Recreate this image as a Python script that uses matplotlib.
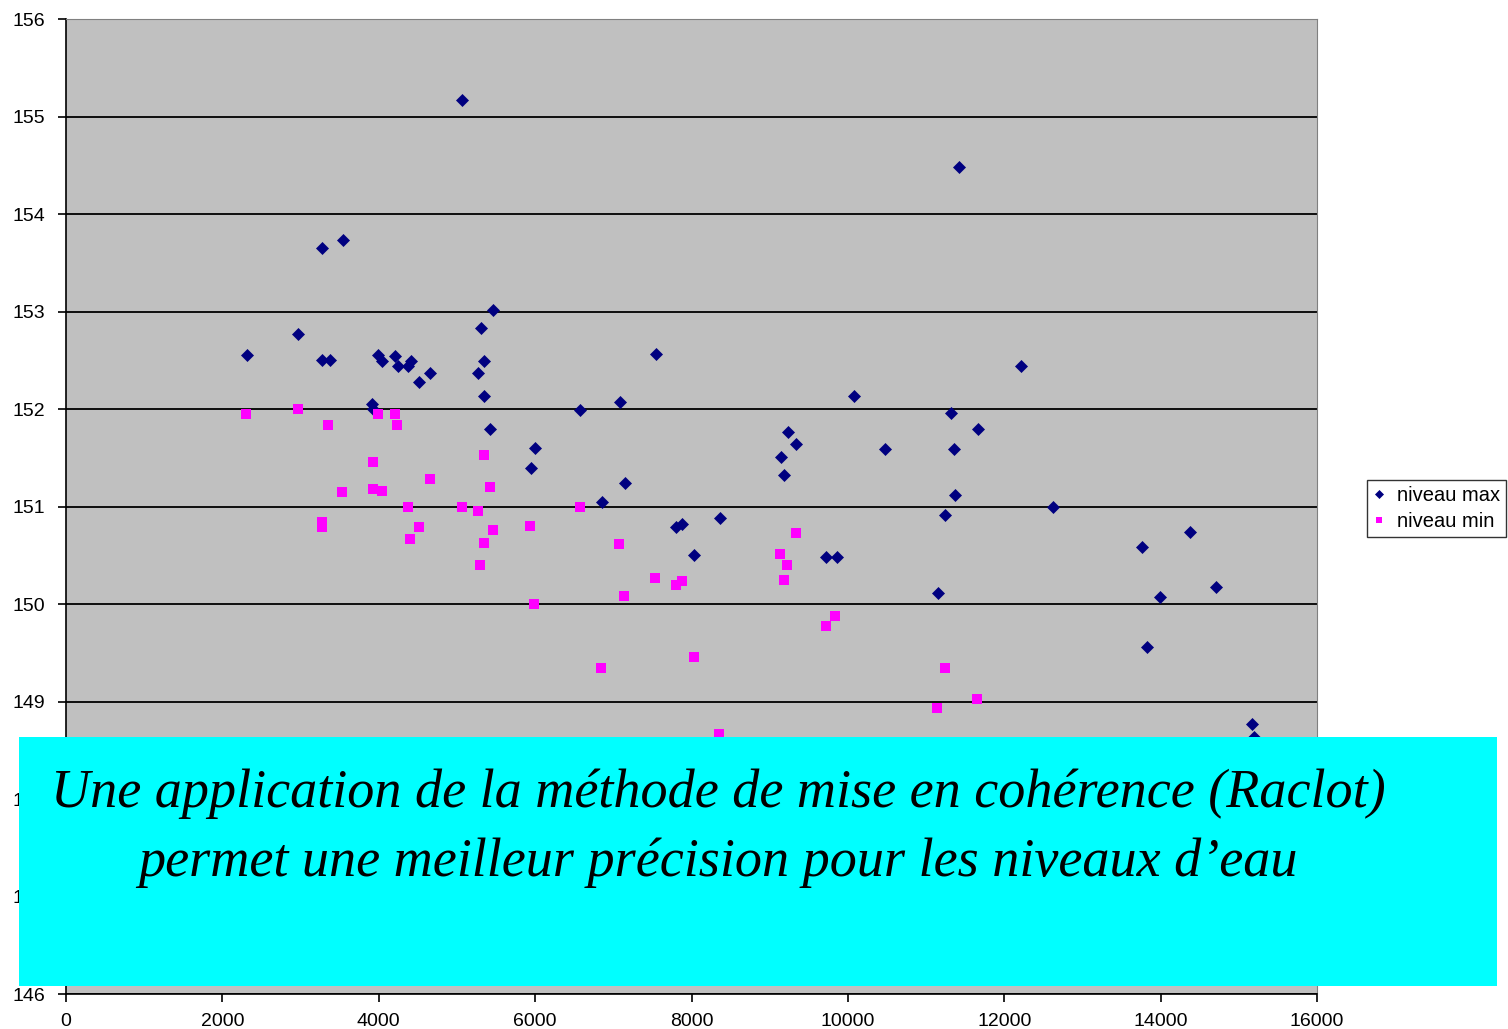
import matplotlib
matplotlib.use("Agg")
import matplotlib.pyplot as plt
from matplotlib.patches import Rectangle

plt.rcParams['font.family'] = ['Liberation Sans', 'DejaVu Sans']

# distance (m) and water level (m) - "niveau max"
max_x = [2315, 2967, 3274, 3543, 3274, 3377, 3920, 3930, 3990, 4042, 4208, 4246,
         4374, 4413, 4515, 4656, 5065, 5270, 5308, 5346, 5346, 5423, 5462, 5947,
         5998, 6574, 6855, 7085, 7150, 7546, 7802, 7879, 8032, 8365, 9145, 9183,
         9234, 9337, 9720, 9861, 10079, 10475, 11153, 11242, 11319, 11357, 11370,
         11421, 11664, 12214, 12624, 13762, 13826, 13992, 14376, 14709, 15169, 15195]
max_y = [152.55, 152.77, 153.65, 153.73, 152.50, 152.50, 152.05, 152.00, 152.55, 152.49,
         152.54, 152.44, 152.44, 152.49, 152.28, 152.37, 155.17, 152.37, 152.83, 152.49,
         152.13, 151.80, 153.02, 151.40, 151.60, 151.99, 151.05, 152.07, 151.24, 152.56,
         150.79, 150.82, 150.50, 150.88, 151.51, 151.32, 151.76, 151.64, 150.48, 150.48,
         152.13, 151.59, 150.11, 150.91, 151.96, 151.59, 151.12, 154.48, 151.79, 152.44,
         150.99, 150.58, 149.56, 150.07, 150.74, 150.17, 148.77, 148.64]

# "niveau min"
min_x = [2302, 2967, 3351, 3990, 4208, 4234, 3926, 3530, 3926, 4042, 4656, 5346,
         5423, 4374, 5065, 5270, 3274, 3274, 4515, 5462, 5935, 4400, 5346, 5295,
         5985, 6574, 7073, 7533, 7802, 7879, 7137, 9337, 9132, 9222, 9183, 9836,
         9720, 8032, 6843, 8352, 11242, 11652, 11140]
min_y = [151.95, 152.00, 151.84, 151.95, 151.95, 151.84, 151.46, 151.15, 151.18, 151.16,
         151.28, 151.53, 151.20, 151.00, 151.00, 150.95, 150.84, 150.79, 150.79, 150.76,
         150.80, 150.67, 150.63, 150.40, 150.00, 151.00, 150.62, 150.27, 150.20, 150.24,
         150.08, 150.73, 150.51, 150.40, 150.25, 149.88, 149.77, 149.46, 149.34, 148.67,
         149.34, 149.03, 148.93]

x_ticks = [0, 2000, 4000, 6000, 8000, 10000, 12000, 14000, 16000]
y_ticks = [146, 147, 148, 149, 150, 151, 152, 153, 154, 155, 156]
series_labels = ["niveau max", "niveau min"]
caption = "Une application de la méthode de mise en cohérence (Raclot)\npermet une meilleur précision pour les niveaux d’eau"

W, H = 1508, 1029
fig = plt.figure(figsize=(W / 100, H / 100), dpi=100)
ax = fig.add_axes([66 / W, 1 - 994 / H, 1251 / W, 975 / H])
ax.set_facecolor('#C0C0C0')

ax.set_xlim(0, 16000)
ax.set_ylim(146, 156)
ax.set_xticks(x_ticks)
ax.set_yticks(y_ticks)
ax.set_xticklabels([str(v) for v in x_ticks])
ax.set_yticklabels([str(v) for v in y_ticks])
ax.tick_params(axis='both', labelsize=14, direction='out', length=6, width=1.2, colors='black')
ax.tick_params(axis='x', pad=8)
ax.tick_params(axis='y', pad=9)

ax.yaxis.grid(True, color='black', linewidth=1.3)
ax.xaxis.grid(False)
ax.set_axisbelow(True)

ax.spines['left'].set_color('black')
ax.spines['bottom'].set_color('black')
ax.spines['left'].set_linewidth(1.2)
ax.spines['bottom'].set_linewidth(1.2)
ax.spines['top'].set_color('#808080')
ax.spines['right'].set_color('#808080')

h1, = ax.plot(max_x, max_y, linestyle='none', marker='D', markersize=6.2,
              color='#000080', markeredgewidth=0.5, label=series_labels[0])
h2, = ax.plot(min_x, min_y, linestyle='none', marker='s', markersize=7,
              color='#FF00FF', markeredgewidth=0, label=series_labels[1])

leg = fig.legend(handles=[h1, h2], labels=series_labels, loc='upper left',
                 bbox_to_anchor=(1367 / W, 1 - 480 / H), frameon=True, fancybox=False,
                 edgecolor='black', fontsize=14.5, handlelength=0.6, handletextpad=0.6,
                 borderpad=0.3, labelspacing=0.35, borderaxespad=0, markerscale=0.7)
leg.get_frame().set_linewidth(1.0)

fig.add_artist(Rectangle((19 / W, 1 - 986 / H), 1478 / W, 249 / H,
                         transform=fig.transFigure, facecolor='#00FFFF',
                         edgecolor='none', zorder=10))
fig.text(718 / W, 1 - 828 / H, caption, ha='center', va='center', fontsize=39,
         family=['Liberation Serif', 'DejaVu Serif'], style='italic', color='black',
         linespacing=1.48, zorder=11)

fig.savefig('out.png', dpi=100)
